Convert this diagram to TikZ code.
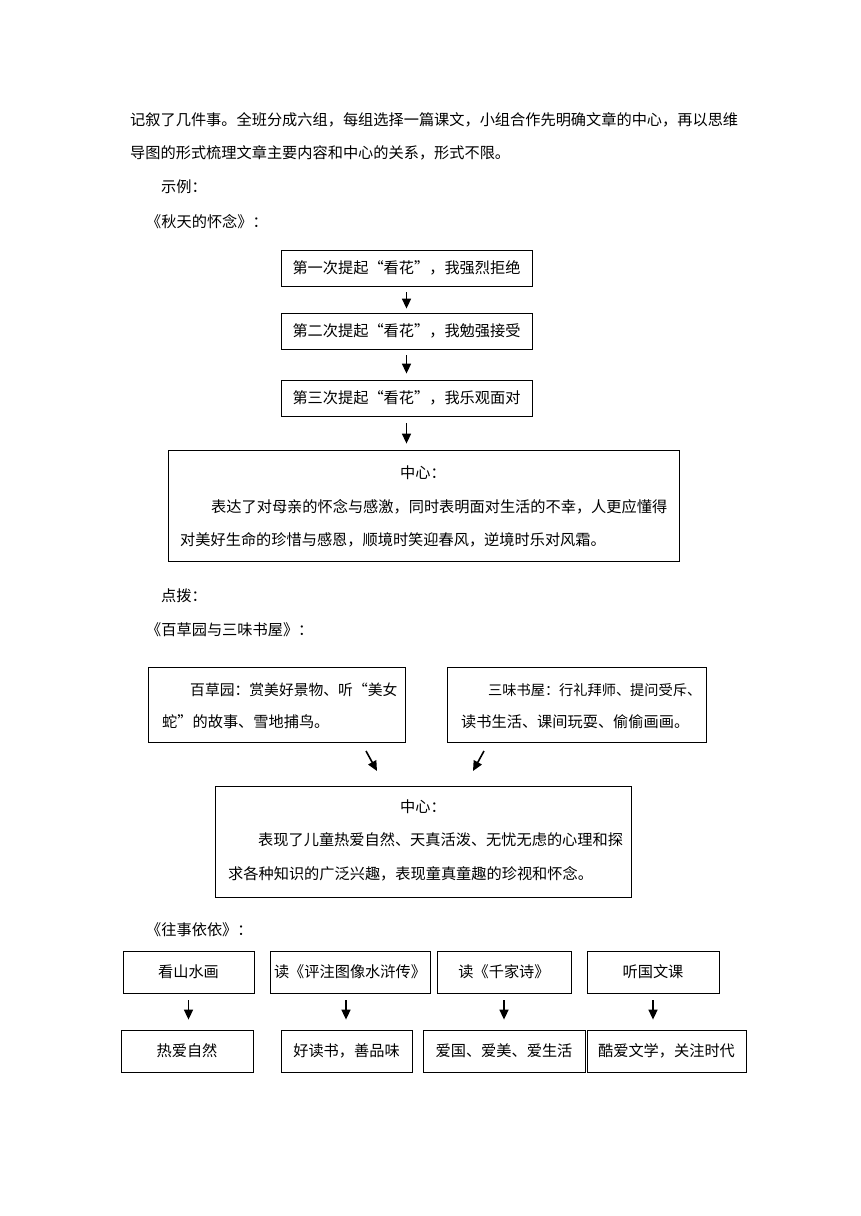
\documentclass[tikz,border=0pt]{standalone}
\usepackage{fontspec}
\setmainfont{Noto Sans CJK SC}
\usetikzlibrary{arrows.meta}
\begin{document}
\begin{tikzpicture}[x=1pt,y=-1pt,
  every node/.style={font=\fontsize{15.2pt}{17pt}\selectfont, inner sep=0pt},
  box/.style={draw, line width=0.8pt, rectangle},
  txt/.style={anchor=west},
  arr/.style={line width=1.6pt, -{Triangle[length=10pt,width=9pt]}}]
\useasboundingbox (0,0) rectangle (860,1216);
% intro text
\node[txt] (l1) at (130,120) {记叙了几件事。全班分成六组，每组选择一篇课文，小组合作先明确文章的中心，再以思维};
\node[txt] (l2) at (130,153) {导图的形式梳理文章主要内容和中心的关系，形式不限。};
\node[txt] (l3) at (161,187) {示例：};
\node[txt] (l4) at (146,222) {《秋天的怀念》：};
% flow 1
\node[box, minimum width=251pt, minimum height=36pt] (b1) at (406.5,268) {第一次提起“看花”，我强烈拒绝};
\node[box, minimum width=251pt, minimum height=36pt] (b2) at (406.5,331) {第二次提起“看花”，我勉强接受};
\node[box, minimum width=251pt, minimum height=36pt] (b3) at (406.5,398) {第三次提起“看花”，我乐观面对};
\node[box, minimum width=511pt, minimum height=111pt] (c1) at (423.5,505.5) {};
\node (c1t) at (423,473) {中心：};
\node[txt] (c1a) at (211,507) {表达了对母亲的怀念与感激，同时表明面对生活的不幸，人更应懂得};
\node[txt] (c1b) at (180,540) {对美好生命的珍惜与感恩，顺境时笑迎春风，逆境时乐对风霜。};
\draw[arr, shorten <=6pt, shorten >=4pt] (b1) -- (b2);
\draw[arr, shorten <=6pt, shorten >=6pt] (b2) -- (b3);
\draw[arr, shorten <=7pt, shorten >=6pt] (b3.south) -- (b3.south |- c1.north);
% section 2
\node[txt] (l5) at (161,596) {点拨：};
\node[txt] (l6) at (146,630) {《百草园与三味书屋》：};
\node[box, minimum width=257pt, minimum height=75pt] (bl) at (276.5,704.5) {};
\node[txt, font=\fontsize{14.8pt}{17pt}\selectfont] (bla) at (190,690) {百草园：赏美好景物、听“美女};
\node[txt] (blb) at (162,722) {蛇”的故事、雪地捕鸟。};
\node[box, minimum width=259pt, minimum height=75pt] (br) at (576.5,704.5) {};
\node[txt, font=\fontsize{14.2pt}{17pt}\selectfont] (bra) at (488,690) {三味书屋：行礼拜师、提问受斥、};
\node[txt] (brb) at (461,722) {读书生活、课间玩耍、偷偷画画。};
\node[box, minimum width=416pt, minimum height=111pt] (c2) at (423,841.5) {};
\node (c2t) at (423,807) {中心：};
\node[txt] (c2a) at (258,840) {表现了儿童热爱自然、天真活泼、无忧无虑的心理和探};
\node[txt] (c2b) at (228,874) {求各种知识的广泛兴趣，表现童真童趣的珍视和怀念。};
\coordinate (p1) at (366,751);
\coordinate (q1) at (377,771);
\coordinate (p2) at (484,751);
\coordinate (q2) at (473,771);
\draw[arr] (p1) -- (q1);
\draw[arr] (p2) -- (q2);
% section 3
\node[txt] (l7) at (146,930) {《往事依依》：};
\node[box, minimum width=131pt, minimum height=42pt] (A) at (188.5,972) {看山水画};
\node[box, minimum width=160pt, minimum height=42pt] (B) at (350,972) {读《评注图像水浒传》};
\node[box, minimum width=134pt, minimum height=42pt] (C) at (504,972) {读《千家诗》};
\node[box, minimum width=132pt, minimum height=42pt] (D) at (653,972) {听国文课};
\node[box, minimum width=132pt, minimum height=42pt] (a) at (187,1051) {热爱自然};
\node[box, minimum width=131pt, minimum height=42pt] (b) at (346.5,1051) {好读书，善品味};
\node[box, minimum width=162pt, minimum height=42pt] (c) at (504,1051) {爱国、爱美、爱生活};
\node[box, minimum width=159pt, minimum height=42pt] (d) at (666.5,1051) {酷爱文学，关注时代};
\draw[arr, shorten <=7pt, shorten >=10pt] (A.south) -- (A.south |- a.north);
\draw[arr, shorten <=7pt, shorten >=10pt] ([xshift=-4pt]B.south) -- ([xshift=-4pt]B.south |- b.north);
\draw[arr, shorten <=7pt, shorten >=10pt] (C.south) -- (C.south |- c.north);
\draw[arr, shorten <=7pt, shorten >=10pt] (D.south) -- (D.south |- d.north);
\end{tikzpicture}
\end{document}
